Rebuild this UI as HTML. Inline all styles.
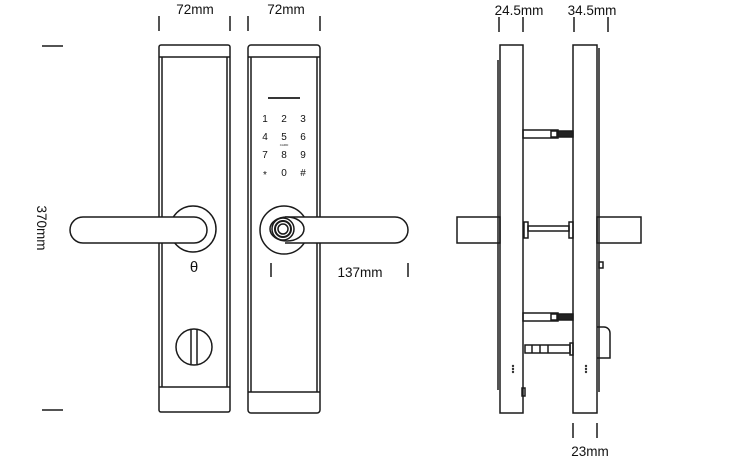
<!DOCTYPE html>
<html><head><meta charset="utf-8"><style>
html,body{margin:0;padding:0;background:#fff;}
svg{display:block;}
text{font-family:"Liberation Sans",sans-serif;fill:#111;}
</style></head><body>
<svg width="733" height="465" viewBox="0 0 733 465" xmlns="http://www.w3.org/2000/svg">
<g stroke="#1a1a1a" stroke-width="1.5" fill="none">
<line x1="159" y1="16" x2="159" y2="31"/><line x1="230" y1="16" x2="230" y2="31"/>
<line x1="248" y1="16" x2="248" y2="31"/><line x1="320" y1="16" x2="320" y2="31"/>
<line x1="42" y1="46" x2="63" y2="46"/><line x1="42" y1="410" x2="63" y2="410"/>
<line x1="271" y1="263" x2="271" y2="277"/><line x1="408" y1="263" x2="408" y2="277"/>
<line x1="499" y1="17" x2="499" y2="32"/><line x1="523" y1="17" x2="523" y2="32"/>
<line x1="574" y1="17" x2="574" y2="32"/><line x1="608" y1="17" x2="608" y2="32"/>
<line x1="573" y1="423" x2="573" y2="438"/><line x1="597" y1="423" x2="597" y2="438"/>

<rect x="159" y="45" width="71" height="367" rx="2"/>
<line x1="159" y1="57" x2="230" y2="57"/>
<line x1="162" y1="57" x2="162" y2="387"/><line x1="227" y1="57" x2="227" y2="387"/>
<line x1="159" y1="387" x2="230" y2="387"/>
<circle cx="193" cy="229" r="23" fill="#fff"/>
<rect x="70" y="217" width="137" height="26" rx="13" fill="#fff"/>
<circle cx="194" cy="347" r="18"/>
<line x1="191" y1="330" x2="191" y2="364"/><line x1="197" y1="330" x2="197" y2="364"/>

<rect x="248" y="45" width="72" height="368" rx="3"/>
<line x1="248" y1="57" x2="320" y2="57"/>
<line x1="251" y1="57" x2="251" y2="392"/><line x1="317" y1="57" x2="317" y2="392"/>
<line x1="248" y1="392" x2="320" y2="392"/>
<line x1="268" y1="98" x2="300" y2="98" stroke-width="1.8"/>
<circle cx="284" cy="230" r="24" fill="#fff"/>
<path d="M285 217 H395 A13 13 0 0 1 395 243 H285" fill="#fff"/>
<ellipse cx="287" cy="229" rx="17" ry="12" fill="#fff"/>
<circle cx="283" cy="229" r="11"/>
<circle cx="283" cy="229" r="8" stroke-width="2"/>
<circle cx="283" cy="229" r="5"/>

<rect x="500" y="45" width="23" height="368"/>
<line x1="498" y1="60" x2="498" y2="390"/>
<rect x="573" y="45" width="24" height="368"/>
<line x1="599" y1="48" x2="599" y2="392"/>
<rect x="457" y="217" width="43" height="26"/>
<rect x="597" y="217" width="44" height="26"/>
<rect x="523" y="130" width="35" height="8"/>
<rect x="551" y="131" width="6" height="6"/>
<rect x="558" y="131" width="15" height="6" fill="#222"/>
<rect x="523" y="313" width="35" height="8"/>
<rect x="551" y="314" width="6" height="6"/>
<rect x="558" y="314" width="15" height="6" fill="#222"/>
<rect x="524" y="222" width="4" height="16"/>
<rect x="528" y="226" width="41" height="5"/>
<rect x="569" y="222" width="4" height="16"/>
<rect x="525" y="345" width="45" height="8"/>
<line x1="532" y1="345" x2="532" y2="353"/><line x1="540" y1="345" x2="540" y2="353"/><line x1="548" y1="345" x2="548" y2="353"/>
<rect x="570" y="343" width="3" height="12"/>
<path d="M597 327 H604 A6 6 0 0 1 610 333 V358 H597"/>
<rect x="599" y="262" width="4" height="6"/>
<rect x="522" y="388" width="3" height="8"/>
</g>
<g fill="#333">
<circle cx="513" cy="366" r="1.2"/><circle cx="513" cy="369" r="1.2"/><circle cx="513" cy="372" r="1.2"/>
<circle cx="586" cy="366" r="1.2"/><circle cx="586" cy="369" r="1.2"/><circle cx="586" cy="372" r="1.2"/>
</g>
<g font-size="13.5" text-anchor="middle">
<text x="195" y="14">72mm</text>
<text x="286" y="14">72mm</text>
<text x="519" y="15">24.5mm</text>
<text x="592" y="15">34.5mm</text>
<text x="590" y="456">23mm</text>
<text x="360" y="277">137mm</text>
<text x="0" y="0" transform="translate(37,228) rotate(90)">370mm</text>
</g>
<g font-size="10" text-anchor="middle">
<text x="265" y="122">1</text><text x="284" y="122">2</text><text x="303" y="122">3</text>
<text x="265" y="140">4</text><text x="284" y="140">5</text><text x="303" y="140">6</text>
<text x="265" y="158">7</text><text x="284" y="158">8</text><text x="303" y="158">9</text>
<text x="265" y="178">*</text><text x="284" y="176">0</text><text x="303" y="176">#</text>
<text x="284" y="146" font-size="3">CARD</text>
<text x="194" y="272" font-size="15">θ</text>
</g>
</svg>
</body></html>
